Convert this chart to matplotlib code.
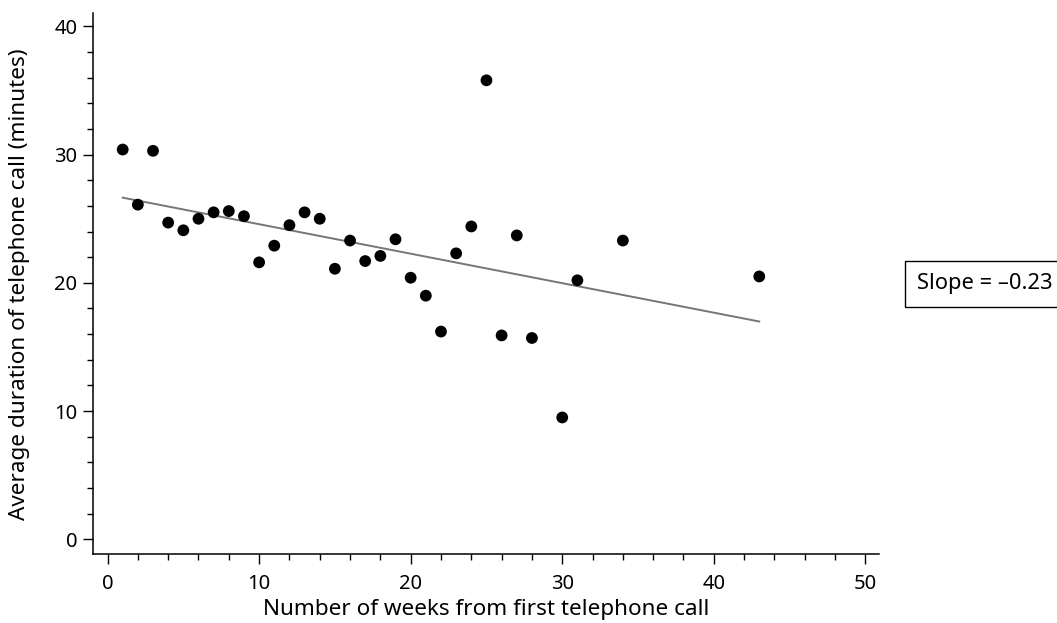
import numpy as np
import matplotlib
matplotlib.use("Agg")
import matplotlib.pyplot as plt
from matplotlib.ticker import MultipleLocator

plt.rcParams['font.family'] = ['Noto Sans', 'DejaVu Sans']

# Weeks since first call and mean call duration (minutes)
weeks = [1, 2, 3, 4, 5, 6, 7, 8, 9, 10, 11, 12, 13, 14, 15, 16,
         17, 18, 19, 20, 21, 22, 23, 24, 25, 26, 27, 28, 30, 31, 34, 43]
duration = [30.4, 26.1, 30.3, 24.7, 24.1, 25.0, 25.5, 25.6, 25.2, 21.6,
            22.9, 24.5, 25.5, 25.0, 21.1, 23.3, 21.7, 22.1, 23.4, 20.4,
            19.0, 16.2, 22.3, 24.4, 35.8, 15.9, 23.7, 15.7, 9.5, 20.2,
            23.3, 20.5]
slope = -0.23
slope_label = "Slope = \u20130.23"

x = np.array(weeks, dtype=float)
y = np.array(duration, dtype=float)
intercept = y.mean() - slope * x.mean()
fit_x = np.array([x.min(), x.max()])
fit_y = intercept + slope * fit_x

fig = plt.figure(figsize=(10.57, 6.23), dpi=100)
ax = fig.add_axes([93 / 1057, 1 - 554 / 623, (879 - 93) / 1057, (554 - 13) / 623])

ax.plot(fit_x, fit_y, color="#767676", linewidth=1.4, zorder=2)
ax.scatter(x, y, s=72, color="black", edgecolors="none", zorder=3)

ax.set_xlim(-0.96, 50.9)
ax.set_ylim(-1.15, 41.05)
ax.xaxis.set_major_locator(MultipleLocator(10))
ax.xaxis.set_minor_locator(MultipleLocator(2))
ax.yaxis.set_major_locator(MultipleLocator(10))
ax.yaxis.set_minor_locator(MultipleLocator(2))

for side in ("top", "right"):
    ax.spines[side].set_visible(False)
for side in ("left", "bottom"):
    ax.spines[side].set_linewidth(1.1)

ax.tick_params(which="major", direction="out", length=7.2, width=1.0,
               labelsize=14.5)
ax.tick_params(axis="x", which="major", pad=7)
ax.tick_params(axis="y", which="major", pad=4)
ax.tick_params(which="minor", direction="out", length=4, width=1.0)

fig.text(486 / 1057, 1 - 609 / 623, "Number of weeks from first telephone call",
         ha="center", va="center", fontsize=16.2)
fig.text(20 / 1057, 1 - 284 / 623, "Average duration of telephone call (minutes)",
         ha="center", va="center", rotation=90, fontsize=16.2)

fig.text(917 / 1057, 1 - 284 / 623, slope_label, ha="left", va="center",
         fontsize=15.8,
         bbox=dict(boxstyle="square,pad=0.55", facecolor="white",
                   edgecolor="black", linewidth=1.0))

fig.savefig("out.png", dpi=100)
